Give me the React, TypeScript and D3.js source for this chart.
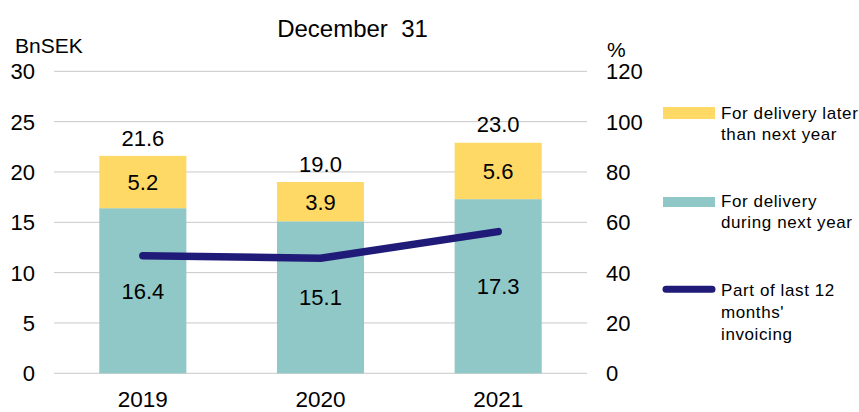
import React from "react";
import * as d3 from "d3";

const years = ["2019", "2020", "2021"];
const nextYear = [16.4, 15.1, 17.3];
const laterYears = [5.2, 3.9, 5.6];
const totals = [21.6, 19.0, 23.0];
const invoicingPct = [46.7, 45.7, 56.3];
const leftTicks = [0, 5, 10, 15, 20, 25, 30];
const rightTicks = [0, 20, 40, 60, 80, 100, 120];

const W = 859;
const H = 412;
const FONT = "'Liberation Sans', Arial, sans-serif";
const YELLOW = "#FFD966";
const TEAL = "#8FC8C6";
const NAVY = "#201B78";
const GRID = "#C8C8C8";

export default function App() {
  const x = d3.scaleBand<string>().domain(years).range([54, 587]).paddingInner(0.51).paddingOuter(0.255);
  const y = d3.scaleLinear().domain([0, 30]).range([373.3, 71.3]);
  const yR = d3.scaleLinear().domain([0, 120]).range([373.3, 71.3]);
  const line = d3
    .line<number>()
    .x((_, i) => (x(years[i]) as number) + x.bandwidth() / 2)
    .y((d) => yR(d));

  return (
    <svg width={W} height={H} style={{ position: "absolute", left: 0, top: 0 }} fontFamily={FONT}>
      <rect width={W} height={H} fill="#fff" />
      {leftTicks.map((t) => (
        <line key={t} x1={54} x2={587} y1={y(t)} y2={y(t)} stroke={GRID} strokeWidth={1} />
      ))}
      {years.map((yr, i) => {
        const bx = x(yr) as number;
        const bw = x.bandwidth();
        const cx = bx + bw / 2;
        const y0 = y(0);
        const y1 = y(nextYear[i]);
        const y2 = y(nextYear[i] + laterYears[i]);
        return (
          <g key={yr}>
            <rect x={bx} y={y1} width={bw} height={y0 - y1} fill={TEAL} />
            <rect x={bx} y={y2} width={bw} height={y1 - y2} fill={YELLOW} />
            <text x={cx} y={(y0 + y1) / 2 + 8} textAnchor="middle" fontSize={22} fill="#000">
              {nextYear[i].toFixed(1)}
            </text>
            <text x={cx} y={(y1 + y2) / 2 + 8} textAnchor="middle" fontSize={22} fill="#000">
              {laterYears[i].toFixed(1)}
            </text>
            <text x={cx} y={y(totals[i]) - 10} textAnchor="middle" fontSize={22} fill="#000">
              {totals[i].toFixed(1)}
            </text>
            <text x={cx} y={406.5} textAnchor="middle" fontSize={22.5} fill="#000">
              {yr}
            </text>
          </g>
        );
      })}
      <path d={line(invoicingPct) || ""} fill="none" stroke={NAVY} strokeWidth={7.5} strokeLinecap="round" strokeLinejoin="round" />
      {leftTicks.map((t) => (
        <text key={t} x={35} y={y(t) + 8} textAnchor="end" fontSize={22} fill="#000">
          {t}
        </text>
      ))}
      {rightTicks.map((t) => (
        <text key={t} x={606} y={yR(t) + 8} textAnchor="start" fontSize={22} fill="#000">
          {t}
        </text>
      ))}
      <text x={15} y={52.7} fontSize={21} fill="#000">BnSEK</text>
      <text x={607} y={57} fontSize={21} fill="#000">%</text>
      <text x={352.5} y={37.3} textAnchor="middle" fontSize={24} fill="#000" style={{ whiteSpace: "pre" }}>
        {"December  31"}
      </text>
      <g fontSize={17} letterSpacing={0.6} fill="#000">
        <rect x={663} y={107} width={52} height={12} fill={YELLOW} />
        <text x={721} y={119}>For delivery later</text>
        <text x={721} y={140}>than next year</text>
        <rect x={663} y={197} width={52} height={10} fill={TEAL} />
        <text x={721} y={206.5}>For delivery</text>
        <text x={721} y={227.5}>during next year</text>
        <line x1={666} x2={712} y1={289.3} y2={289.3} stroke={NAVY} strokeWidth={7} strokeLinecap="round" />
        <text x={721} y={296}>Part of last 12</text>
        <text x={721} y={318}>months'</text>
        <text x={721} y={340}>invoicing</text>
      </g>
    </svg>
  );
}
